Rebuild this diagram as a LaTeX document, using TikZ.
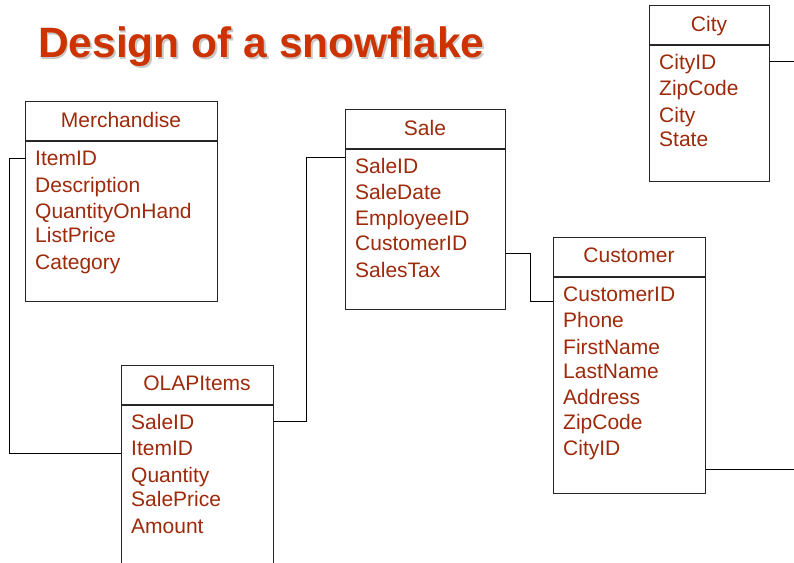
\documentclass[tikz,border=0pt]{standalone}
\usepackage{fontspec}
\setmainfont{Liberation Sans}
\definecolor{fieldred}{RGB}{158,42,12}
\definecolor{titlered}{RGB}{204,51,0}
\definecolor{shadowgray}{RGB}{200,200,200}
\newcommand\fldfont{\fontsize{21}{25}\selectfont}
\newcommand\ttlfont{\fontsize{42.5}{50}\selectfont\bfseries}
\newcommand\shadowed[1]{\makebox[0pt][l]{\hspace{1.5pt}\raisebox{-2pt}{\color{shadowgray}#1}}#1}
\tikzset{
  tbl/.style={draw=black!85, line width=1.3pt, inner sep=0pt, anchor=north west},
  divider/.style={draw=black!85, line width=1.3pt},
  hdr/.style={font=\fldfont, text=fieldred, inner sep=0pt, anchor=base},
  fld/.style={font=\fldfont, text=fieldred, inner sep=0pt, anchor=base west},
  link/.style={draw=black, line width=1pt},
}
\begin{document}
\begin{tikzpicture}[x=1pt,y=-1pt]
\useasboundingbox (0,0) rectangle (794,562);
\clip (0,0) rectangle (794,562);
\fill[white] (0,0) rectangle (794,562);

% title
\node[font=\ttlfont, text=titlered, inner sep=0pt, anchor=base west] (title) at (38,57.5) {\shadowed{Design of a snowflake}};

% Merchandise
\node[tbl, minimum width=192pt, minimum height=200pt] (merch) at (25,101) {};
\draw[divider] ([yshift=-40pt]merch.north west) -- ([yshift=-40pt]merch.north east);
\node[hdr] (merchh) at (121,127.5) {Merchandise};
\node[fld] (m1) at (35,165.5) {ItemID};
\node[fld] (m2) at (35,192.5) {Description};
\node[fld] (m3) at (35,218.5) {QuantityOnHand};
\node[fld] (m4) at (35,242.5) {ListPrice};
\node[fld] (m5) at (35,269.5) {Category};

% Sale
\node[tbl, minimum width=160pt, minimum height=200pt] (sale) at (345,109) {};
\draw[divider] ([yshift=-40pt]sale.north west) -- ([yshift=-40pt]sale.north east);
\node[hdr] (saleh) at (425,135.5) {Sale};
\node[fld] (s1) at (355,173.5) {SaleID};
\node[fld] (s2) at (355,199) {SaleDate};
\node[fld] (s3) at (355,225.5) {EmployeeID};
\node[fld] (s4) at (355,250) {CustomerID};
\node[fld] (s5) at (355,277) {SalesTax};

% OLAPItems
\node[tbl, minimum width=152pt, minimum height=220pt] (olap) at (121,365) {};
\draw[divider] ([yshift=-40pt]olap.north west) -- ([yshift=-40pt]olap.north east);
\node[hdr] (olaph) at (197,390.5) {OLAPItems};
\node[fld] (o1) at (131,429) {SaleID};
\node[fld] (o2) at (131,455.5) {ItemID};
\node[fld] (o3) at (131,482.5) {Quantity};
\node[fld] (o4) at (131,506) {SalePrice};
\node[fld] (o5) at (131,533) {Amount};

% Customer
\node[tbl, minimum width=152pt, minimum height=256pt] (cust) at (553,237) {};
\draw[divider] ([yshift=-40pt]cust.north west) -- ([yshift=-40pt]cust.north east);
\node[hdr] (custh) at (629,262.5) {Customer};
\node[fld] (c1) at (563,301) {CustomerID};
\node[fld] (c2) at (563,327) {Phone};
\node[fld] (c3) at (563,354) {FirstName};
\node[fld] (c4) at (563,378) {LastName};
\node[fld] (c5) at (563,404) {Address};
\node[fld] (c6) at (563,429) {ZipCode};
\node[fld] (c7) at (563,455) {CityID};

% City
\node[tbl, minimum width=120pt, minimum height=176pt] (city) at (649,5) {};
\draw[divider] ([yshift=-40pt]city.north west) -- ([yshift=-40pt]city.north east);
\node[hdr] (cityh) at (709,31) {City};
\node[fld] (t1) at (659,69) {CityID};
\node[fld] (t2) at (659,95.5) {ZipCode};
\node[fld] (t3) at (659,122) {City};
\node[fld] (t4) at (659,146) {State};

% connectors
\coordinate (custout) at (794,469);
\coordinate (cityout) at (794,61);
\draw[link] ([yshift=-57pt]merch.north west) -- ++(-16,0) |- ([yshift=-88pt]olap.north west);
\draw[link] ([yshift=-56pt]olap.north east) -- ++(32,0) |- ([yshift=-48pt]sale.north west);
\draw[link] ([yshift=-144pt]sale.north east) -- ++(24,0) |- ([yshift=-64pt]cust.north west);
\draw[link] ([yshift=-232pt]cust.north east) -- (custout);
\draw[link] ([yshift=-56pt]city.north east) -- (cityout);
\end{tikzpicture}
\end{document}
